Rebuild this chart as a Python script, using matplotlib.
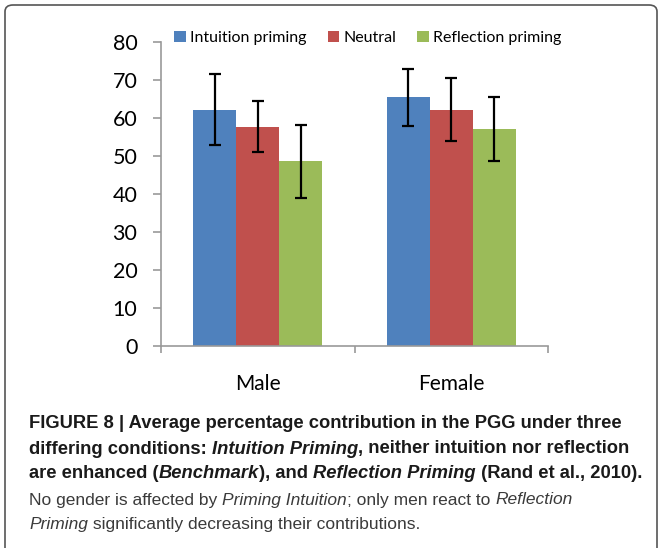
import matplotlib.pyplot as plt
import numpy as np
from matplotlib.patches import FancyBboxPatch

groups = ["Male", "Female"]
series = ["Intuition priming", "Neutral", "Reflection priming"]
means = {
    "Intuition priming": [62.2, 65.4],
    "Neutral": [57.7, 62.2],
    "Reflection priming": [48.6, 57.1],
}
err_low = {
    "Intuition priming": [53.0, 57.8],
    "Neutral": [51.0, 54.0],
    "Reflection priming": [39.0, 48.8],
}
err_high = {
    "Intuition priming": [71.5, 73.0],
    "Neutral": [64.5, 70.4],
    "Reflection priming": [58.2, 65.4],
}
colors = ["#4F81BD", "#C0504D", "#9BBB59"]

# caption lines as (text, bold, italic) runs
caption = [
    [("FIGURE 8 | Average percentage contribution in the PGG under three", True, False)],
    [("differing conditions: ", True, False), ("Intuition Priming", True, True),
     (", neither intuition nor reflection", True, False)],
    [("are enhanced (", True, False), ("Benchmark", True, True), ("), and ", True, False),
     ("Reflection Priming", True, True), (" (Rand et al., 2010).", True, False)],
    [("No gender is affected by ", False, False), ("Priming Intuition", False, True),
     ("; only men react to ", False, False), ("Reflection", False, True)],
    [("Priming", False, True), (" significantly decreasing their contributions.", False, False)],
]

plt.rcParams['font.family'] = ['Lato', 'DejaVu Sans']

fig = plt.figure(figsize=(6.62, 5.48), dpi=100)
ax = fig.add_axes([0.2432, 0.3686, 0.5846, 0.5548])

x = np.arange(len(groups))
w = 0.2222
for i, s in enumerate(series):
    pos = x + (i - 1) * w
    m = np.array(means[s])
    lo = m - np.array(err_low[s])
    hi = np.array(err_high[s]) - m
    ax.bar(pos, m, width=w, color=colors[i], label=s, zorder=2)
    ax.errorbar(pos, m, yerr=[lo, hi], fmt='none', ecolor='black',
                elinewidth=1.6, capsize=4, capthick=1.6, zorder=3)

ax.set_xlim(-0.5, 1.5)
ax.set_ylim(0, 80)
ax.set_yticks(range(0, 81, 10))
ax.set_xticks([-0.5, 0.5, 1.5], minor=False)
ax.set_xticklabels([])
ax.set_xticks(x, minor=True)
ax.set_xticklabels(groups, minor=True, fontsize=15)
ax.tick_params(axis='x', which='minor', length=0, pad=20)
ax.tick_params(axis='x', which='major', length=5, color='#999999', width=1.2)
ax.tick_params(axis='y', labelsize=15.5, length=6, pad=11, color='#999999', width=1.2)
for side in ['top', 'right']:
    ax.spines[side].set_visible(False)
for side in ['left', 'bottom']:
    ax.spines[side].set_color('#999999')
    ax.spines[side].set_linewidth(1.2)

fig.legend(loc='center', bbox_to_anchor=(0.556, 0.93), ncol=3, frameon=False,
           fontsize=11.5, handlelength=0.7, handleheight=0.7, handletextpad=0.3,
           columnspacing=1.3)

# caption, drawn run by run
cap = ['Liberation Sans Narrow', 'Liberation Sans', 'DejaVu Sans']
line_y = [424, 449, 474, 500, 524]
fig.canvas.draw()
renderer = fig.canvas.get_renderer()
for runs, ypx in zip(caption, line_y):
    xpx = 29
    for txt, bold, ital in runs:
        t = fig.text(xpx / 662, 1 - ypx / 548, txt, fontsize=13.2 if bold else 12.5,
                     family=cap,
                     fontweight='bold' if bold else 'normal',
                     fontstyle='italic' if ital else 'normal',
                     color='#1a1a1a' if bold else '#3a3a3a', va='center')
        bb = t.get_window_extent(renderer=renderer)
        xpx += bb.width

box = FancyBboxPatch((5 / 662, -0.05), 652 / 662, 1.0 + 0.05 - 5 / 548,
                     boxstyle="round,pad=0,rounding_size=0.012",
                     transform=fig.transFigure, fill=False,
                     edgecolor='#555555', linewidth=1.2)
fig.patches.append(box)

fig.savefig("out.png", dpi=100)
